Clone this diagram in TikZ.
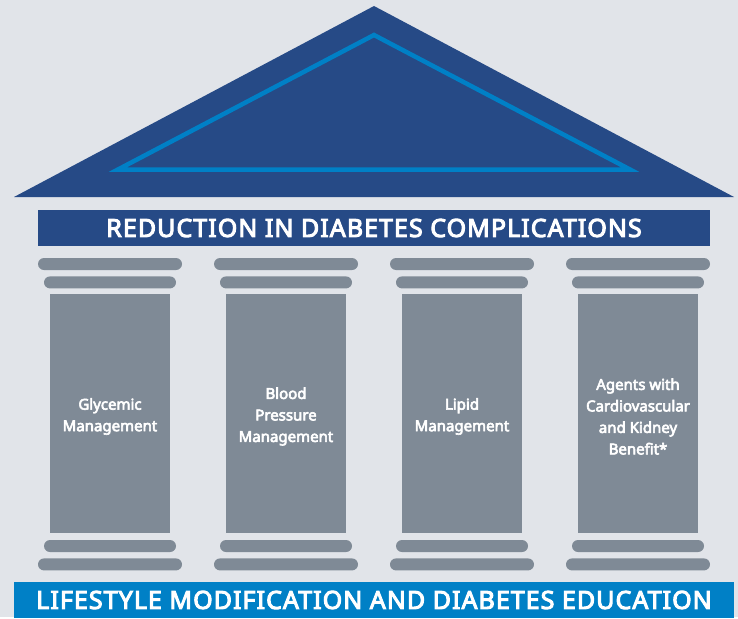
\documentclass[tikz,border=0pt]{standalone}
\usepackage{fontspec}
\setmainfont{Noto Sans}[BoldFont={Noto Sans}, BoldFeatures={FakeBold=4}]
\usetikzlibrary{
    positioning,
    calc
}
\definecolor{RoofBlue}{RGB}{38,74,134}
\definecolor{TrimBlue}{RGB}{0,128,198}
\definecolor{StoneGray}{RGB}{127,138,150}
\definecolor{PaleGray}{RGB}{225,228,233}
\tikzset{
  banner/.style  = {text=white, inner sep=0pt,
                    font=\bfseries\fontsize{25}{30}\selectfont\addfontfeatures{LetterSpace=4.2}},
  capbar/.style  = {fill=StoneGray, rounded corners=6pt, minimum height=12pt,
                    inner sep=0pt},
  column/.style  = {fill=StoneGray, minimum width=120pt, minimum height=239pt,
                    inner sep=0pt},
  pillartext/.style = {align=center, text=white, inner sep=0pt,
                    font=\bfseries\fontsize{15}{21.5}\selectfont\addfontfeatures{FakeBold=5.5}}
}

\begin{document}
\begin{tikzpicture}[x=1pt, y=-1pt]
% backdrop
\fill[PaleGray] (0,0) rectangle (738,617);

% roof with its inner trim
\fill[RoofBlue] (14,197) -- (374,6) -- (734,197) -- cycle;
\draw[TrimBlue, line width=4.5pt, line join=miter]
    (118,169.5) -- (374,35) -- (630,169.5) -- cycle;

% banners
\node[banner, fill=RoofBlue, minimum width=672pt, minimum height=35.5pt]
    (top) at (374,228) {REDUCTION IN DIABETES COMPLICATIONS};
\node[banner, fill=TrimBlue, minimum width=720pt, minimum height=36pt]
    (base) at (374,600) {LIFESTYLE MODIFICATION AND DIABETES EDUCATION};

% pillars: column, two bars above and two below
\foreach \i/\txt in {1/{Glycemic\\Management},
                     2/{Blood\\Pressure\\Management},
                     3/{Lipid\\Management},
                     4/{Agents with\\Cardiovascular\\and Kidney\\Benefit*}} {
  \pgfmathsetmacro{\cx}{110+176*(\i-1)}
  \node[column] (col\i) at (\cx,413.5) {};
  \node[pillartext] (lbl\i) at ([yshift=-3pt]col\i.center) {\txt};
  \node[capbar, minimum width=144pt] (capa\i) at (\cx,264) {};
  \node[capbar, minimum width=132pt, below=6pt of capa\i] (capb\i) {};
  \node[capbar, minimum width=132pt] (basea\i) at (\cx,546) {};
  \node[capbar, minimum width=144pt, below=6pt of basea\i] (baseb\i) {};
}
\end{tikzpicture}
\end{document}
